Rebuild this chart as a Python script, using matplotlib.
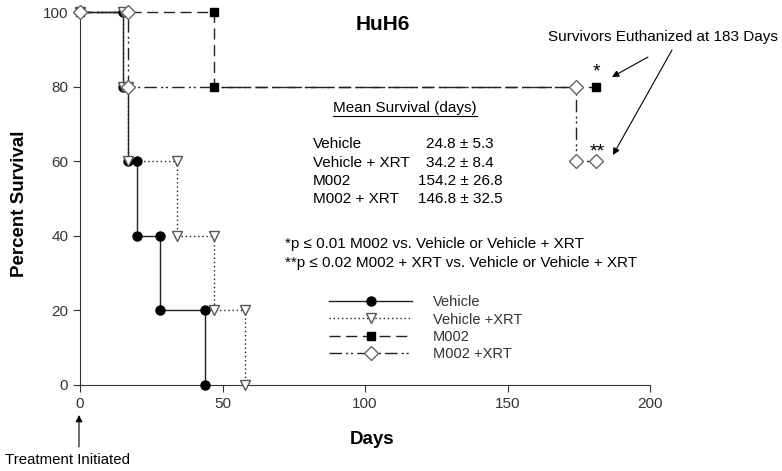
import matplotlib.pyplot as plt
from matplotlib.lines import Line2D

plt.rcParams['font.family'] = ['Liberation Sans', 'DejaVu Sans']

# Kaplan-Meier data: day of each step and survival after it
veh_days = [0, 15, 17, 20, 28, 44]
veh_surv = [100, 80, 60, 40, 20, 0]
vxrt_days = [0, 15, 17, 34, 47, 58]
vxrt_surv = [100, 80, 60, 40, 20, 0]
m002_days = [0, 47, 181]
m002_surv = [100, 80, 80]
mxrt_days = [0, 17, 174, 181]
mxrt_surv = [100, 80, 60, 60]

groups = ['Vehicle', 'Vehicle + XRT', 'M002', 'M002 + XRT']
mean_surv = ['24.8 \u00b1 5.3', '34.2 \u00b1 8.4', '154.2 \u00b1 26.8', '146.8 \u00b1 32.5']
legend_labels = ['Vehicle', 'Vehicle +XRT', 'M002', 'M002 +XRT']

W, H = 782, 471


def km_path(days, surv):
    xs, ys = [days[0]], [surv[0]]
    for i in range(1, len(days)):
        xs.append(days[i]); ys.append(surv[i - 1])
        if surv[i] != surv[i - 1]:
            xs.append(days[i]); ys.append(surv[i])
    return xs, ys


def fx(px):
    return px / W


def fy(py):
    return 1 - py / H


fig = plt.figure(figsize=(7.82, 4.71), dpi=100)
ax = fig.add_axes([fx(80), fy(385), (650 - 80) / W, (385 - 12) / H])

lc = '#222222'
styles = [
    dict(ls='-', marker='o', mfc='black', mec='black', ms=6.5),
    dict(ls=(0, (1, 2)), marker='v', mfc='white', mec='#555555', ms=7.5),
    dict(ls=(0, (8, 4)), marker='s', mfc='black', mec='black', ms=6),
    dict(ls=(0, (9, 3, 1.5, 2, 1.5, 3)), marker='D', mfc='white', mec='#666666', ms=7),
]
data = [(veh_days, veh_surv), (vxrt_days, vxrt_surv),
        (m002_days, m002_surv), (mxrt_days, mxrt_surv)]

handles = []
for (d, s), st, lab in zip(data, styles, legend_labels):
    xs, ys = km_path(d, s)
    ax.plot(xs, ys, color=lc, lw=1.0, ls=st['ls'], clip_on=False)
    ax.plot(xs, ys, ls='none', marker=st['marker'], mfc=st['mfc'],
            mec=st['mec'], ms=st['ms'], mew=1.0, clip_on=False, zorder=3)
    handles.append(Line2D([], [], color=lc, lw=1.0, ls=st['ls'],
                          marker=st['marker'], mfc=st['mfc'], mec=st['mec'],
                          ms=st['ms']))

ax.set_xlim(0, 200)
ax.set_ylim(0, 100)
ax.set_xticks([0, 50, 100, 150, 200])
ax.set_yticks([0, 20, 40, 60, 80, 100])
ax.spines['top'].set_visible(False)
ax.spines['right'].set_visible(False)
for sp in ['left', 'bottom']:
    ax.spines[sp].set_color('#333333')
ax.tick_params(direction='out', length=5, color='#333333', labelsize=11,
               labelcolor='#333333')

fig.text(fx(372), fy(439), 'Days', ha='center', va='center',
         fontsize=13.5, fontweight='bold')
fig.text(fx(20), fy(204), 'Percent Survival', ha='center', va='center',
         rotation=90, fontsize=13.5, fontweight='bold')
fig.text(fx(383), fy(25), 'HuH6', ha='center', va='center',
         fontsize=15, fontweight='bold')

leg = fig.legend(handles, legend_labels, loc='upper left',
                 bbox_to_anchor=(fx(322), fy(288)), frameon=False,
                 fontsize=10.5, handlelength=5.7, labelspacing=0.22,
                 handletextpad=1.4, borderpad=0)
for t in leg.get_texts():
    t.set_color('#333333')

# mean survival table
fig.text(fx(405), fy(108), 'Mean Survival (days)', ha='center', va='center',
         fontsize=11)
fig.add_artist(Line2D([fx(333), fx(477)], [fy(116), fy(116)],
                      color='black', lw=0.8))
row_y = [144, 163, 181, 199]
for g, m, y in zip(groups, mean_surv, row_y):
    fig.text(fx(313), fy(y), g, ha='left', va='center', fontsize=11)
    fig.text(fx(460), fy(y), m, ha='center', va='center', fontsize=11)

fig.text(fx(285), fy(244), '*p \u2264 0.01 M002 vs. Vehicle or Vehicle + XRT',
         ha='left', va='center', fontsize=11)
fig.text(fx(285), fy(263), '**p \u2264 0.02 M002 + XRT vs. Vehicle or Vehicle + XRT',
         ha='left', va='center', fontsize=11)

fig.text(fx(548), fy(37), 'Survivors Euthanized at 183 Days', ha='left',
         va='center', fontsize=11)
fig.text(fx(596), fy(72), '*', ha='center', va='center', fontsize=14)
fig.text(fx(597), fy(152), '**', ha='center', va='center', fontsize=14)

arr = dict(arrowstyle='-|>', color='black', lw=0.8, mutation_scale=10,
           shrinkA=0, shrinkB=0)
fig.add_artist(plt.Annotation('', xy=(fx(612), fy(77)), xytext=(fx(648), fy(57)),
                              xycoords='figure fraction', arrowprops=arr))
fig.add_artist(plt.Annotation('', xy=(fx(613), fy(155)), xytext=(fx(672), fy(50)),
                              xycoords='figure fraction', arrowprops=arr))

fig.text(fx(5), fy(460), 'Treatment Initiated', ha='left', va='center',
         fontsize=10.8)
fig.add_artist(plt.Annotation('', xy=(fx(79), fy(415)), xytext=(fx(79), fy(447)),
                              xycoords='figure fraction', arrowprops=arr))

fig.savefig('out.png', dpi=100)
